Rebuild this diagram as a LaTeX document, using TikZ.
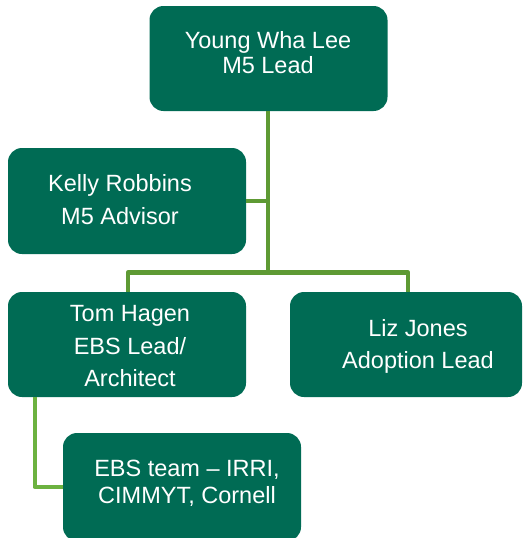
\documentclass[tikz,border=0pt]{standalone}
\usepackage{fontspec}
\setmainfont{Liberation Sans}
\usetikzlibrary{calc}
\definecolor{boxgreen}{RGB}{0,107,84}
\definecolor{lineA}{RGB}{94,154,52}
\definecolor{lineB}{RGB}{108,178,64}
\begin{document}
\begin{tikzpicture}[x=1pt,y=1pt,
  box/.style={draw=none, fill=boxgreen, rounded corners=14pt, inner sep=0pt},
  txt/.style={text=white, align=center, inner sep=0pt},
  conn/.style={draw=lineA, line width=4.5pt},
  connb/.style={draw=lineB, line width=4.5pt}]
\useasboundingbox (0,0) rectangle (523,-538);
\clip (0,0) rectangle (523,-538);
% boxes
\node[box, minimum width=238, minimum height=105] (top) at (268.5,-58.5) {};
\node[box, minimum width=238, minimum height=106] (kelly) at (127,-201) {};
\node[box, minimum width=238, minimum height=105] (tom) at (127,-344.5) {};
\node[box, minimum width=232, minimum height=105] (liz) at (406,-344.5) {};
\node[box, minimum width=238, minimum height=108] (ebs) at (182,-487) {};
% texts
\node[txt, font=\fontsize{23.5}{25.5}\selectfont] (topT) at (268,-52.5) {Young Wha Lee\\M5 Lead};
\node[txt, font=\fontsize{23.5}{33}\selectfont] (kellyT) at (120,-199.5) {Kelly Robbins\\M5 Advisor};
\node[txt, font=\fontsize{23.5}{32.5}\selectfont] (tomT) at (130,-346.5) {Tom Hagen\\EBS Lead/\\Architect};
\node[txt, font=\fontsize{23.5}{32}\selectfont] (lizT) at (418,-346) {Liz Jones\\Adoption Lead};
\node[txt, font=\fontsize{23.5}{27}\selectfont] (ebsT) at (187,-483.5) {EBS team – IRRI,\\CIMMYT, Cornell};
% connectors
\coordinate (hub) at (268,-272.5);
\coordinate (hubL) at (128,-272.5);
\coordinate (hubR) at (408,-272.5);
\draw[conn] (top.south -| hub) -- (hub);
\draw[conn] (kelly.east) -- (kelly.east -| hub);
\draw[conn, line join=round] (tom.north -| hubL) -- (hubL) -- (hubR) -- (liz.north -| hubR);
\coordinate (tomleg) at ($(tom.south west)+(27,0)$);
\draw[connb, line join=round] (tomleg) |- (ebs.west);
\end{tikzpicture}
\end{document}
